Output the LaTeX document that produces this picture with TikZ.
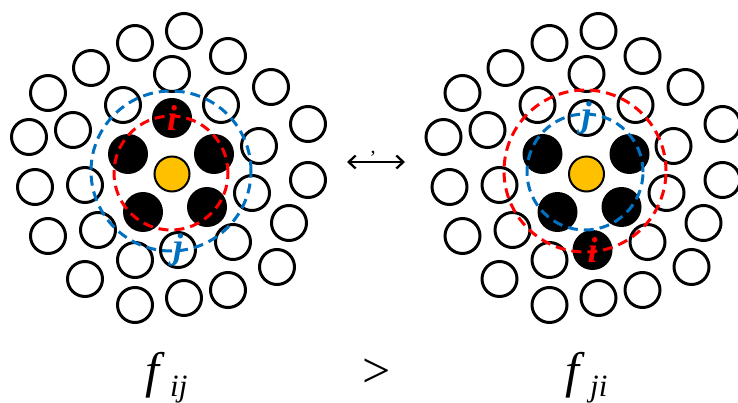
\documentclass[tikz,border=0pt]{standalone}
\usepackage{fontspec}
\setmainfont{Liberation Serif}
\usetikzlibrary{arrows.meta}
\definecolor{shellred}{RGB}{255,0,0}
\definecolor{shellblue}{RGB}{0,112,192}
\definecolor{gold}{RGB}{255,192,0}
\tikzset{
  site/.style={circle, draw=black, line width=3pt, minimum size=35pt, inner sep=0pt},
  occupied/.style={circle, fill=black, minimum size=40pt, inner sep=0pt},
  probe/.style={circle, draw=black, line width=2pt, fill=gold, minimum size=35pt, inner sep=0pt},
  shell/.style={circle, dash pattern=on 10pt off 6pt, line width=3pt, inner sep=0pt},
  lab/.style={font=\fontsize{36}{36}\selectfont\bfseries\itshape, inner sep=0pt},
  eq/.style={font=\fontsize{50}{50}\selectfont\itshape, inner sep=0pt, anchor=base west},
  rel/.style={font=\fontsize{50}{50}\selectfont, inner sep=0pt, anchor=base west},
  sub/.style={font=\fontsize{31}{31}\selectfont\itshape, inner sep=0pt, anchor=base west},
  swap/.style={line width=2.3pt, {Straight Barb[length=7pt,width=13pt]}-{Straight Barb[length=7pt,width=13pt]}},
}
% outer (empty) lattice sites around the central particle
\newcommand\sitelist{184/31, 135/43, 228/56, 91/68, 172/74, 48/93, 271/87, 123/105,
  221/105, 308/124, 73/130, 29/137, 259/146, 308/180, 35/187, 85/185, 252/193,
  289/223, 48/236, 98/230, 233/242, 135/260, 277/267, 85/279, 228/290, 184/298, 135/305}
\begin{document}
\begin{tikzpicture}[x=1pt, y=-1pt]
\useasboundingbox (0,0) rectangle (738,403);

% left configuration: i in the first shell, j in the second shell
\begin{scope}
  \foreach \x/\y [count=\k] in \sitelist {\node[site] (L\k) at (\x,\y) {};}
  \node[site] (Lj) at (178,250) {};
  \node[occupied] (Li) at (172,118) {};
  \node[occupied] (La) at (128,154) {};
  \node[occupied] (Lb) at (214,154) {};
  \node[occupied] (Lc) at (143,212) {};
  \node[occupied] (Ld) at (207,207) {};
  \node[probe] (Lo) at (172,174) {};
  \node[shell, draw=shellred, minimum size=114pt] (Lred) at (171,173) {};
  \node[shell, draw=shellblue, minimum size=160pt] (Lblue) at (171,171) {};
  \node[lab, text=shellred] (Lilab) at (Li) {i};
  \node[lab, text=shellblue] (Ljlab) at (Lj) {j};
\end{scope}

% right configuration: i and j exchanged
\begin{scope}[xshift=414.5pt]
  \foreach \x/\y [count=\k] in \sitelist {\node[site] (R\k) at (\x,\y) {};}
  \node[site] (Rj) at (172,118) {};
  \node[occupied] (Ri) at (178,250) {};
  \node[occupied] (Ra) at (128,154) {};
  \node[occupied] (Rb) at (215,154) {};
  \node[occupied] (Rc) at (143,212) {};
  \node[occupied] (Rd) at (207,207) {};
  \node[probe] (Ro) at (172,174) {};
  \node[shell, draw=shellred, minimum size=162pt] (Rred) at (170.5,171) {};
  \node[shell, draw=shellblue, minimum size=116pt] (Rblue) at (170.5,172) {};
  \node[lab, text=shellred] (Rilab) at (Ri) {i};
  \node[lab, text=shellblue] (Rjlab) at (Rj) {j};
\end{scope}

% exchange arrow
\coordinate (swapL) at (347,162);
\coordinate (swapR) at (405,162);
\draw[swap] (swapL) -- (swapR);
\node[font=\fontsize{20}{20}\selectfont, inner sep=0pt] (tick) at (373,158) {’};

% rates
\node[eq] (fij) at (145,387) {f};
\node[sub] (fijs) at (170,396) {ij};
\node[rel] (gt) at (362,387) {>};
\node[eq] (fji) at (565,387) {f};
\node[sub] (fjis) at (590,396) {ji};
\end{tikzpicture}
\end{document}
